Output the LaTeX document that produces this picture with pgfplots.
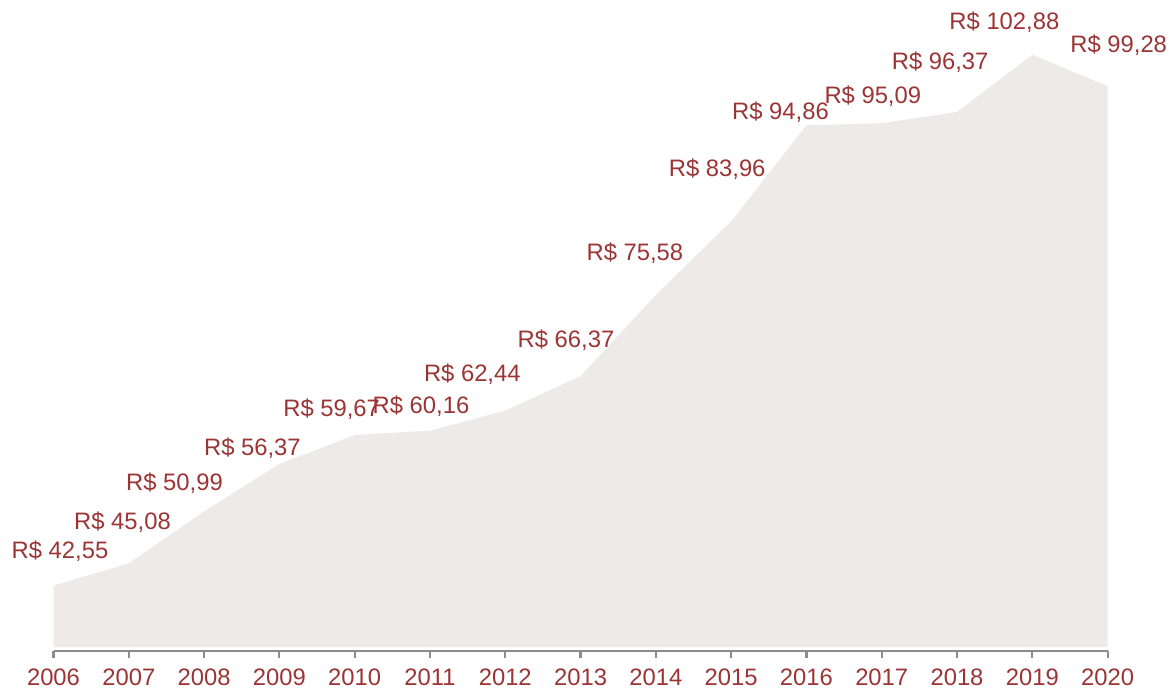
\documentclass[border=0pt]{standalone}
\usepackage{pgfplots}
\pgfplotsset{compat=1.18}
\usepgfplotslibrary{fillbetween}
\usepackage{fontspec}
\setmainfont{Liberation Sans}
\definecolor{lblred}{RGB}{155,52,52}
\definecolor{areagray}{RGB}{238,234,234}
\definecolor{axisgray}{RGB}{140,140,140}

% year, value, label shift (pt)
\pgfplotstableread{
x y dx dy
2006 42.55 3.25 17.25
2007 45.08 -3.15 20.5
2008 50.99 -14.8 14
2009 56.37 -13.5 8
2010 59.67 -11.5 13
2011 60.16 -4.5 12
2012 62.44 -16.5 18
2013 66.37 -7.3 18
2014 75.58 -10.5 21
2015 83.96 -7 26
2016 94.86 -13 6.5
2017 95.09 -4.5 13.5
2018 96.37 -8.5 24.75
2019 102.88 -14 16
2020 99.28 5.5 20.75
}\precos

\begin{document}
\begin{tikzpicture}
\begin{axis}[
    scale only axis,
    width=527.1pt,
    height=326.5pt,
    xmin=2006, xmax=2020,
    ymin=35.12, ymax=109.32,
    axis y line=none,
    axis x line*=bottom,
    x axis line style={draw=axisgray, line width=1.1pt},
    xtick={2006,...,2020},
    xtick align=outside,
    major tick length=3.5pt,
    xtick style={draw=axisgray, line width=1.1pt},
    xticklabel style={font=\fontsize{11.9}{14}\selectfont, text=lblred, yshift=-2pt,
        /pgf/number format/1000 sep={}, /pgf/number format/assume math mode=true},
    clip=false,
]
\addplot[draw=none, name path=top] table[x=x, y=y] {\precos};
\addplot[draw=none, name path=base] coordinates {(2006,35.57) (2020,35.57)};
\addplot[areagray] fill between[of=top and base];
\addplot[draw=none, mark=none,
    point meta=explicit,
    visualization depends on={\thisrow{dx} \as \dx},
    visualization depends on={\thisrow{dy} \as \dy},
    nodes near coords={R\$ \pgfmathprintnumber[fixed,fixed zerofill,precision=2,use comma,assume math mode=true]{\pgfplotspointmeta}},
    every node near coord/.append style={anchor=center, xshift=\dx pt, yshift=\dy pt,
        font=\fontsize{11.9}{14}\selectfont, text=lblred, inner sep=0pt},
] table[x=x, y=y, meta=y] {\precos};
\coordinate (o) at (rel axis cs:0,0);
\end{axis}
\pgfresetboundingbox
\path[use as bounding box] (o) ++(-26.75pt,-20.5pt) rectangle ++(585.5pt,346pt);
\end{tikzpicture}
\end{document}
